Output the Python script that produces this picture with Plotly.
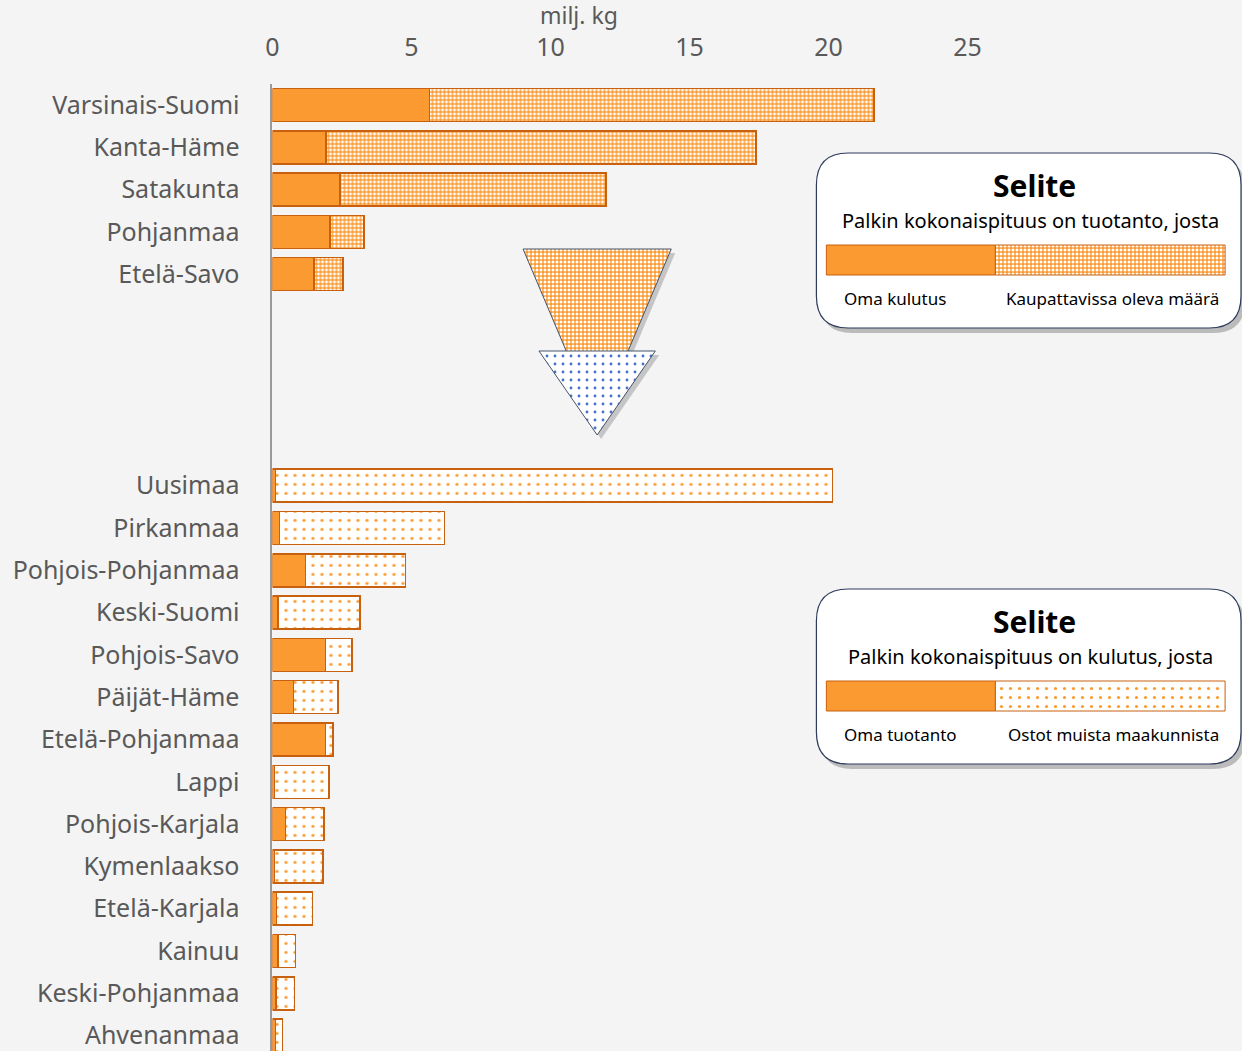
import plotly.graph_objects as go

# tuotantomaakunnat (ylempi ryhmä), milj. kg
top_regions = ["Varsinais-Suomi", "Kanta-Häme", "Satakunta", "Pohjanmaa", "Etelä-Savo"]
top_own_use = [5.64, 1.93, 2.43, 2.07, 1.50]
top_for_sale = [16.00, 15.46, 9.57, 1.22, 1.04]

# kulutusmaakunnat (alempi ryhmä)
bottom_regions = ["Uusimaa", "Pirkanmaa", "Pohjois-Pohjanmaa", "Keski-Suomi", "Pohjois-Savo",
                  "Päijät-Häme", "Etelä-Pohjanmaa", "Lappi", "Pohjois-Karjala", "Kymenlaakso",
                  "Etelä-Karjala", "Kainuu", "Keski-Pohjanmaa", "Ahvenanmaa"]
bottom_own_prod = [0.10, 0.25, 1.18, 0.20, 1.90, 0.75, 1.90, 0.07, 0.46, 0.07, 0.15, 0.20, 0.12, 0.10]
bottom_bought = [20.04, 5.93, 3.61, 2.94, 0.96, 1.61, 0.28, 1.97, 1.40, 1.75, 1.28, 0.62, 0.67, 0.26]

gap_rows = [" " * k for k in range(1, 5)]
row_order = top_regions + gap_rows + bottom_regions
x_ticks = [0, 5, 10, 15, 20, 25]

W, H = 1242, 1051
orange = "#FB9A30"
edge = "#C7600F"
grey_txt = "#595959"
font = "Noto Sans"

checker = dict(shape=".", fgcolor="white", bgcolor=orange, size=4, solidity=0.45, fillmode="replace")
dots = dict(shape=".", fgcolor=orange, bgcolor="white", size=9, solidity=0.1, fillmode="replace")

fig = go.Figure()

fig.add_trace(go.Bar(y=top_regions, x=top_own_use, orientation="h",
                     marker=dict(color=orange, line=dict(color=edge, width=1.5))))
fig.add_trace(go.Bar(y=top_regions, x=top_for_sale, orientation="h",
                     marker=dict(color=orange, pattern=checker, line=dict(color=edge, width=1.5))))
fig.add_trace(go.Bar(y=bottom_regions, x=bottom_own_prod, orientation="h",
                     marker=dict(color=orange, line=dict(color=edge, width=1.5))))
fig.add_trace(go.Bar(y=bottom_regions, x=bottom_bought, orientation="h",
                     marker=dict(color="white", pattern=dots, line=dict(color=edge, width=1.5))))

# overlay in pixel units for the arrows and the legend boxes
ov = dict(xaxis="x2", yaxis="y2", mode="lines", fill="toself", hoverinfo="skip", showlegend=False)

def tri(x0, x1, ytop, yapex):
    xm = (x0 + x1) / 2
    return [x0, x1, xm, x0], [ytop, ytop, yapex, ytop]

# shadows
for xs, ys in [tri(519, 668, 249, 424), tri(535, 652, 351, 435)]:
    fig.add_trace(go.Scatter(x=[v + 4 for v in xs], y=[v + 4 for v in ys], fillcolor="rgba(90,90,90,0.3)",
                             line=dict(width=0), **ov))
xs, ys = tri(519, 668, 249, 424)
fig.add_trace(go.Scatter(x=xs, y=ys, fillcolor=orange, fillpattern=checker,
                         line=dict(color="#44546A", width=1), **ov))
xs, ys = tri(535, 652, 351, 435)
fig.add_trace(go.Scatter(x=xs, y=ys, fillcolor="white",
                         fillpattern=dict(shape=".", fgcolor="#4472C4", bgcolor="white", size=8, solidity=0.1,
                                          fillmode="replace"),
                         line=dict(color="#44546A", width=1), **ov))


def rounded(x0, y0, x1, y1, r):
    return (f"M {x0 + r},{y0} L {x1 - r},{y0} Q {x1},{y0} {x1},{y0 + r} L {x1},{y1 - r} "
            f"Q {x1},{y1} {x1 - r},{y1} L {x0 + r},{y1} Q {x0},{y1} {x0},{y1 - r} "
            f"L {x0},{y0 + r} Q {x0},{y0} {x0 + r},{y0} Z")


legends = [
    (153, "Palkin kokonaispituus on tuotanto, josta", "Oma kulutus", "Kaupattavissa oleva määrä", checker, orange),
    (589, "Palkin kokonaispituus on kulutus, josta", "Oma tuotanto", "Ostot muista maakunnista", dots, "white"),
]
shapes, annos = [], []
for top, sub, left_lbl, right_lbl, patt, bg in legends:
    shapes.append(dict(type="path", xref="x2", yref="y2", layer="below",
                       path=rounded(818, top + 5, 1245, top + 180, 32),
                       fillcolor="rgba(80,80,80,0.35)", line=dict(width=0)))
    shapes.append(dict(type="path", xref="x2", yref="y2", layer="below",
                       path=rounded(814, top, 1241, top + 175, 32),
                       fillcolor="white", line=dict(color="#2F3B5C", width=1.2)))
    bar_y0, bar_y1 = top + 92, top + 122
    fig.add_trace(go.Scatter(x=[824, 994, 994, 824, 824], y=[bar_y0, bar_y0, bar_y1, bar_y1, bar_y0],
                             fillcolor=orange, line=dict(color=edge, width=1), **ov))
    fig.add_trace(go.Scatter(x=[994, 1225, 1225, 994, 994], y=[bar_y0, bar_y0, bar_y1, bar_y1, bar_y0],
                             fillcolor=bg, fillpattern=patt, line=dict(color=edge, width=1), **ov))
    annos.append(dict(xref="x2", yref="y2", x=1033, y=top + 32, text="<b>Selite</b>", showarrow=False,
                      font=dict(family=font, size=30, color="black", weight=900)))
    annos.append(dict(xref="x2", yref="y2", x=1029, y=top + 67, text=sub, showarrow=False,
                      font=dict(family=font, size=20, color="black")))
    annos.append(dict(xref="x2", yref="y2", x=840, y=top + 145, text=left_lbl, showarrow=False, xanchor="left",
                      font=dict(family=font, size=17, color="black")))
    annos.append(dict(xref="x2", yref="y2", x=1221, y=top + 145, text=right_lbl, showarrow=False, xanchor="right",
                      font=dict(family=font, size=17, color="black")))

annos.append(dict(xref="x2", yref="y2", x=575, y=15, text="milj. kg", showarrow=False,
                  font=dict(family=font, size=23, color=grey_txt)))

px_unit = (966 - 267) / 25
row_h = 42.3
plot_top = 105 - row_h / 2
rows_visible = (H - plot_top) / row_h

fig.update_layout(
    width=W, height=H,
    margin=dict(l=0, r=0, t=0, b=0),
    barmode="stack", bargap=0.22,
    showlegend=False,
    paper_bgcolor="#F4F4F4", plot_bgcolor="rgba(0,0,0,0)",
    font=dict(family=font, color=grey_txt),
    shapes=shapes, annotations=annos,
    xaxis=dict(side="top", domain=[267 / W, (267 + 28 * px_unit) / W], range=[0, 28],
               tickvals=x_ticks, showgrid=False, zeroline=False, showline=False,
               tickfont=dict(size=25, color=grey_txt), ticklabelstandoff=22),
    yaxis=dict(type="category", categoryorder="array", categoryarray=row_order,
               domain=[0, 1 - plot_top / H], range=[rows_visible - 0.5, -0.5],
               showgrid=False, zeroline=False, showline=True, linecolor="#9A9A9A", linewidth=2,
               ticks="", tickfont=dict(size=25, color=grey_txt), ticklabelstandoff=26),
    xaxis2=dict(domain=[0, 1], range=[0, W], visible=False, anchor="y2", fixedrange=True),
    yaxis2=dict(domain=[0, 1], range=[H, 0], visible=False, anchor="x2", fixedrange=True),
)

fig.write_html("out.html", config={"displayModeBar": False},
               post_script="document.body.style.margin='0';document.body.style.overflow='hidden';")
